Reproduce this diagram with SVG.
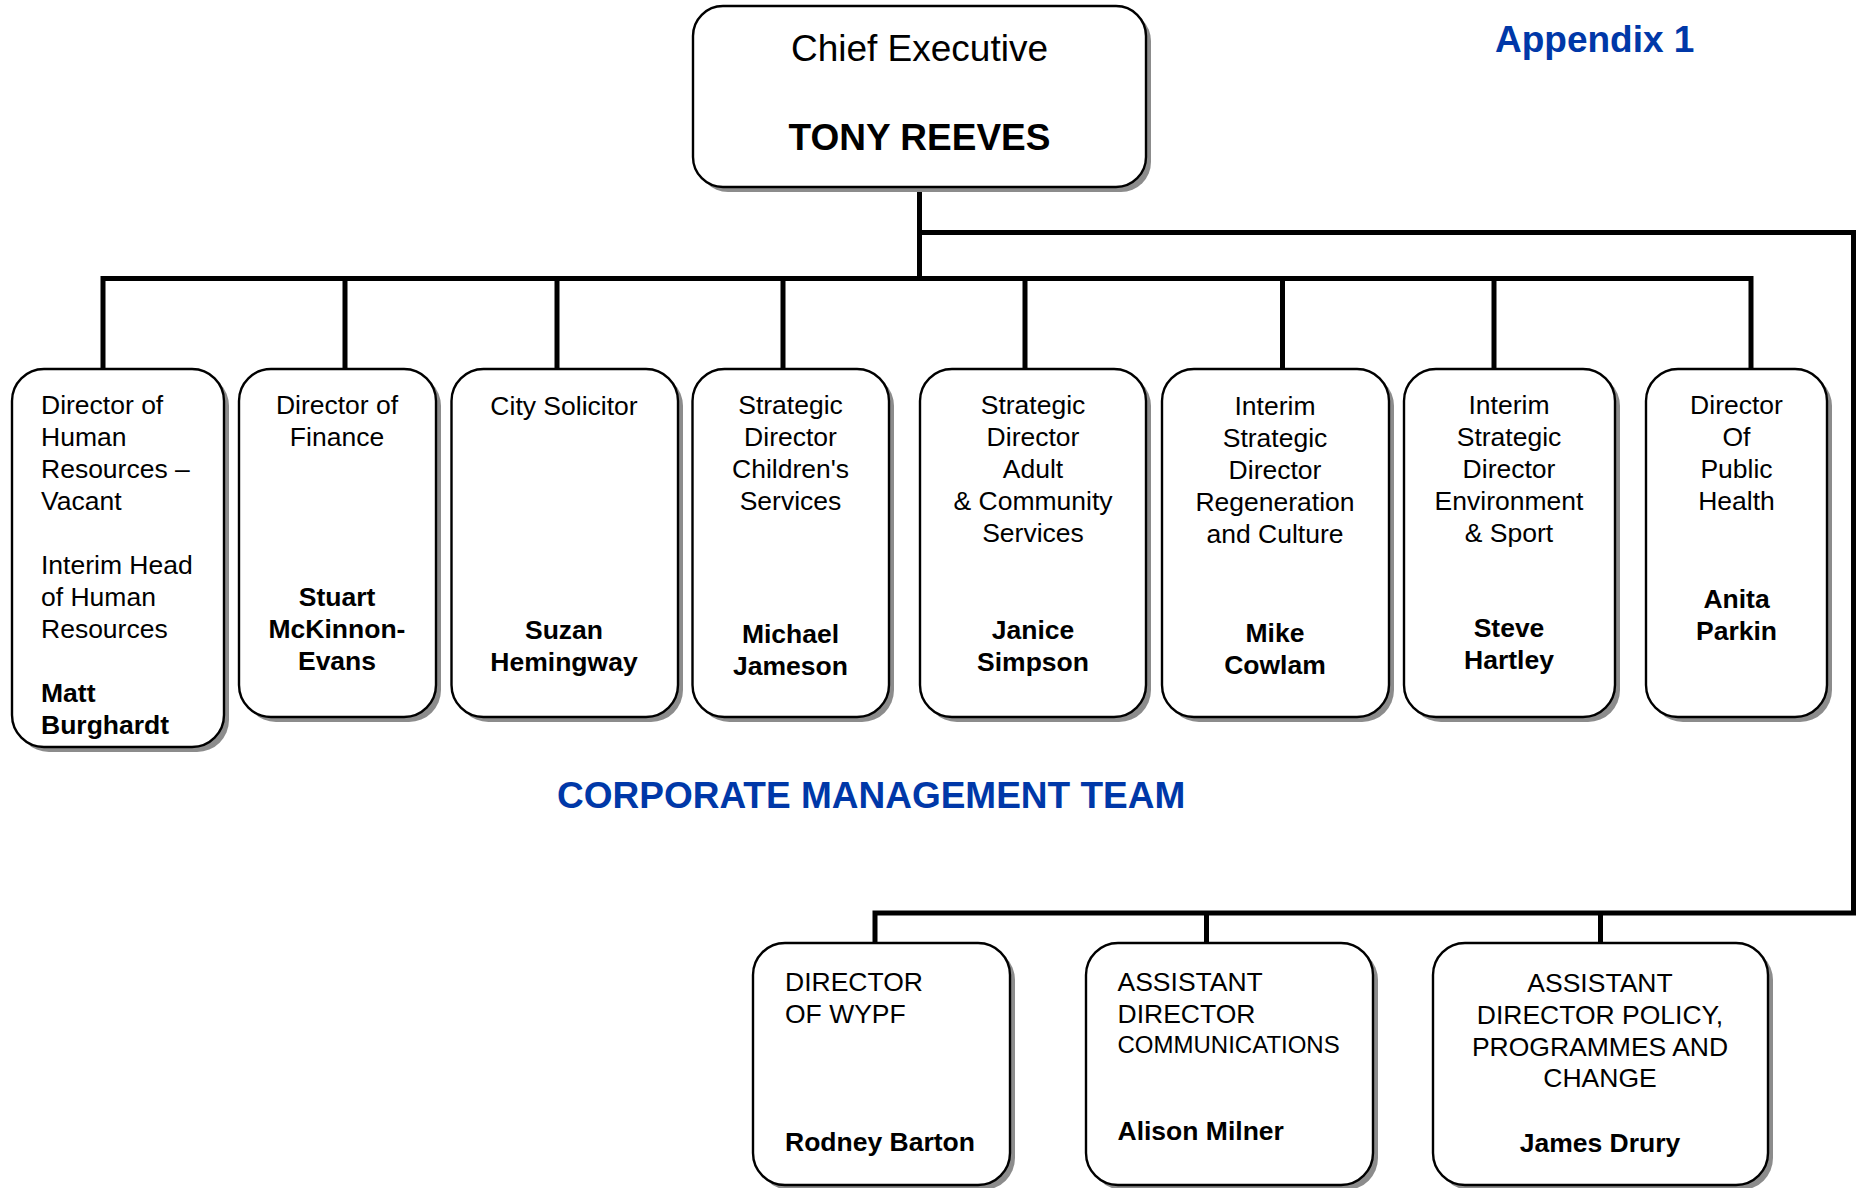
<svg xmlns="http://www.w3.org/2000/svg" width="1856" height="1188" viewBox="0 0 1856 1188">
<style>
.box{fill:#fff;stroke:#000;stroke-width:2.4}
.sh{fill:#8c8c8c}
.ln{fill:none;stroke:#000;stroke-width:5;stroke-linejoin:miter;stroke-linecap:butt}
text{font-family:"Liberation Sans",Arial,sans-serif;fill:#000}
.t{font-size:26.5px}
.c{text-anchor:middle}
.b{font-weight:bold}
.sm{font-size:24px}
.blue{fill:#0038A8;font-weight:bold;font-size:37px}
</style>
<rect width="1856" height="1188" fill="#fff"/>
<g id="connectors">
<path class="ln" d="M919.5,187 V278.5"/>
<path class="ln" d="M103,369 V278.5 H1751 V369"/>
<path class="ln" d="M345,278.5 V369 M557,278.5 V369 M783,278.5 V369 M1025,278.5 V369 M1282.5,278.5 V369 M1494,278.5 V369"/>
<path class="ln" d="M919.5,232.5 H1853.5 V913 H875 V943"/>
<path class="ln" d="M1206.5,913 V943 M1600.5,913 V943"/>
</g>
<text class="blue" x="1495" y="52">Appendix 1</text>
<text class="blue" x="557" y="808" font-size="37.6">CORPORATE MANAGEMENT TEAM</text>
<g id="chief">
<rect class="sh" x="698" y="11" width="453" height="181" rx="30"/>
<rect class="box" x="693" y="6" width="453" height="181" rx="30"/>
<text class="c" x="919.5" y="61" font-size="37">Chief Executive</text>
<text class="c b" x="919.5" y="150" font-size="37">TONY REEVES</text>
</g>
<g id="hr">
<rect class="sh" x="17" y="374" width="212" height="378" rx="32"/>
<rect class="box" x="12" y="369" width="212" height="378" rx="32"/>
<text class="t" x="41" y="414">Director of</text>
<text class="t" x="41" y="446">Human</text>
<text class="t" x="41" y="478">Resources –</text>
<text class="t" x="41" y="510">Vacant</text>
<text class="t" x="41" y="574">Interim Head</text>
<text class="t" x="41" y="606">of Human</text>
<text class="t" x="41" y="638">Resources</text>
<text class="t b" x="41" y="702">Matt</text>
<text class="t b" x="41" y="734">Burghardt</text>
</g>
<g id="finance">
<rect class="sh" x="244" y="374" width="197" height="348" rx="32"/>
<rect class="box" x="239" y="369" width="197" height="348" rx="32"/>
<text class="t c" x="337" y="414">Director of</text>
<text class="t c" x="337" y="446">Finance</text>
<text class="t c b" x="337" y="606">Stuart</text>
<text class="t c b" x="337" y="638">McKinnon-</text>
<text class="t c b" x="337" y="670">Evans</text>
</g>
<g id="solicitor">
<rect class="sh" x="456.5" y="374" width="226.5" height="348" rx="32"/>
<rect class="box" x="451.5" y="369" width="226.5" height="348" rx="32"/>
<text class="t c" x="564" y="415">City Solicitor</text>
<text class="t c b" x="564" y="639">Suzan</text>
<text class="t c b" x="564" y="671">Hemingway</text>
</g>
<g id="children">
<rect class="sh" x="697.5" y="374" width="196.5" height="348" rx="32"/>
<rect class="box" x="692.5" y="369" width="196.5" height="348" rx="32"/>
<text class="t c" x="790.5" y="414">Strategic</text>
<text class="t c" x="790.5" y="446">Director</text>
<text class="t c" x="790.5" y="478">Children's</text>
<text class="t c" x="790.5" y="510">Services</text>
<text class="t c b" x="790.5" y="643">Michael</text>
<text class="t c b" x="790.5" y="675">Jameson</text>
</g>
<g id="adult">
<rect class="sh" x="925" y="374" width="226" height="348" rx="32"/>
<rect class="box" x="920" y="369" width="226" height="348" rx="32"/>
<text class="t c" x="1033" y="414">Strategic</text>
<text class="t c" x="1033" y="446">Director</text>
<text class="t c" x="1033" y="478">Adult</text>
<text class="t c" x="1033" y="510">&amp; Community</text>
<text class="t c" x="1033" y="542">Services</text>
<text class="t c b" x="1033" y="639">Janice</text>
<text class="t c b" x="1033" y="671">Simpson</text>
</g>
<g id="regeneration">
<rect class="sh" x="1167" y="374" width="227" height="348" rx="32"/>
<rect class="box" x="1162" y="369" width="227" height="348" rx="32"/>
<text class="t c" x="1275" y="415">Interim</text>
<text class="t c" x="1275" y="447">Strategic</text>
<text class="t c" x="1275" y="479">Director</text>
<text class="t c" x="1275" y="511">Regeneration</text>
<text class="t c" x="1275" y="543">and Culture</text>
<text class="t c b" x="1275" y="642">Mike</text>
<text class="t c b" x="1275" y="674">Cowlam</text>
</g>
<g id="environment">
<rect class="sh" x="1409" y="374" width="211" height="348" rx="32"/>
<rect class="box" x="1404" y="369" width="211" height="348" rx="32"/>
<text class="t c" x="1509" y="414">Interim</text>
<text class="t c" x="1509" y="446">Strategic</text>
<text class="t c" x="1509" y="478">Director</text>
<text class="t c" x="1509" y="510">Environment</text>
<text class="t c" x="1509" y="542">&amp; Sport</text>
<text class="t c b" x="1509" y="637">Steve</text>
<text class="t c b" x="1509" y="669">Hartley</text>
</g>
<g id="publichealth">
<rect class="sh" x="1651" y="374" width="181" height="348" rx="32"/>
<rect class="box" x="1646" y="369" width="181" height="348" rx="32"/>
<text class="t c" x="1736.5" y="414">Director</text>
<text class="t c" x="1736.5" y="446">Of</text>
<text class="t c" x="1736.5" y="478">Public</text>
<text class="t c" x="1736.5" y="510">Health</text>
<text class="t c b" x="1736.5" y="608">Anita</text>
<text class="t c b" x="1736.5" y="640">Parkin</text>
</g>
<g id="wypf">
<rect class="sh" x="758" y="948" width="257" height="242" rx="32"/>
<rect class="box" x="753" y="943" width="257" height="242" rx="32"/>
<text class="t" x="785" y="991">DIRECTOR</text>
<text class="t" x="785" y="1023">OF WYPF</text>
<text class="t b" x="785" y="1151">Rodney Barton</text>
</g>
<g id="communications">
<rect class="sh" x="1091" y="948" width="287" height="242" rx="32"/>
<rect class="box" x="1086" y="943" width="287" height="242" rx="32"/>
<text class="t" x="1117.5" y="991">ASSISTANT</text>
<text class="t" x="1117.5" y="1023">DIRECTOR</text>
<text class="sm" x="1117.5" y="1053">COMMUNICATIONS</text>
<text class="t b" x="1117.5" y="1140">Alison Milner</text>
</g>
<g id="policy">
<rect class="sh" x="1438" y="948" width="335" height="242" rx="32"/>
<rect class="box" x="1433" y="943" width="335" height="242" rx="32"/>
<text class="t c" x="1600" y="992">ASSISTANT</text>
<text class="t c" x="1600" y="1024">DIRECTOR POLICY,</text>
<text class="t c" x="1600" y="1056">PROGRAMMES AND</text>
<text class="t c" x="1600" y="1087">CHANGE</text>
<text class="t c b" x="1600" y="1152">James Drury</text>
</g>
</svg>
